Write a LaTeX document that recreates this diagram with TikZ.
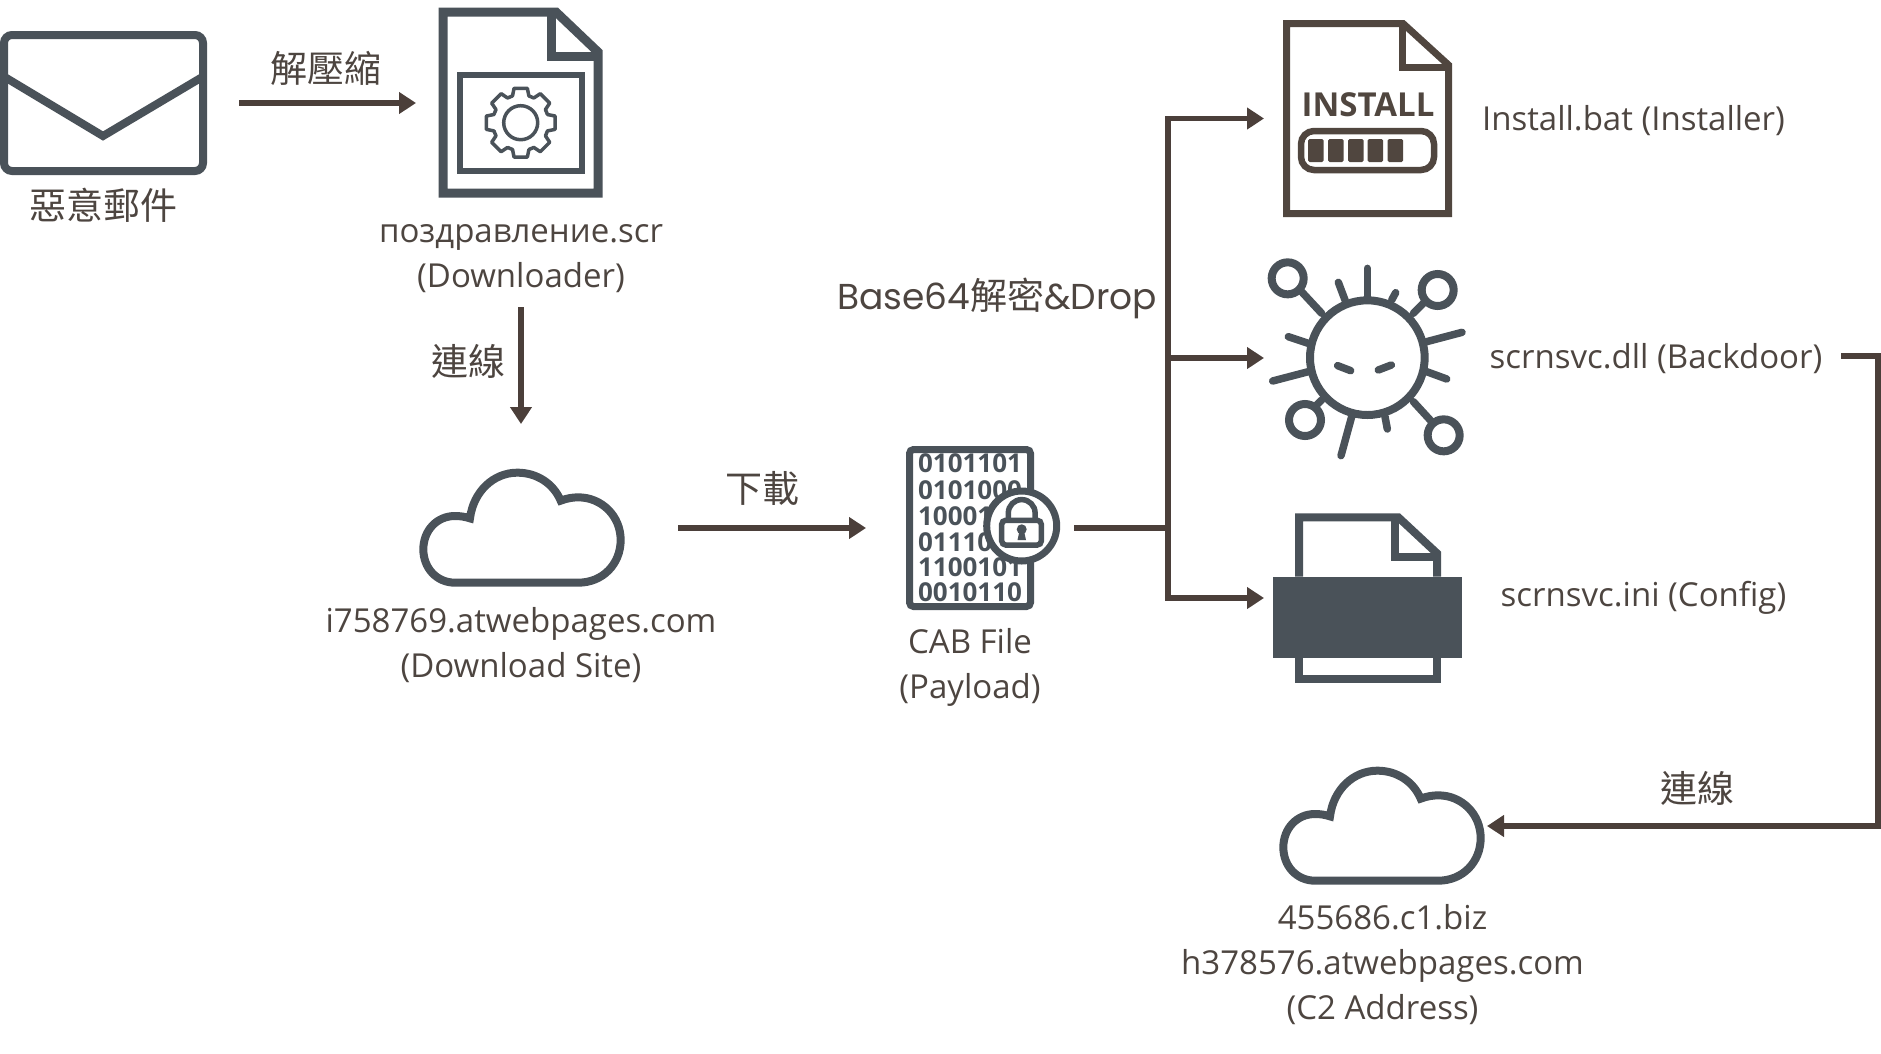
\documentclass[tikz,border=0pt]{standalone}
\usepackage{fontspec}
\setmainfont{Open Sans}
\newfontfamily\cjk{Noto Sans CJK TC}
\newfontfamily\pop{Poppins}
\usetikzlibrary{arrows.meta}
\definecolor{iconc}{HTML}{4A5259}
\definecolor{txtc}{HTML}{4D4540}
\definecolor{arrc}{HTML}{4B3F3A}
\definecolor{instc}{HTML}{50463F}
\tikzset{
  hold/.style={inner sep=0pt,outer sep=0pt,text=txtc,align=center,font=\fontsize{33}{45}\selectfont},
  arr/.style={draw=arrc,line width=5.5pt,-{Triangle[length=17pt,width=21pt]}},
  icon/.style={draw=iconc,line width=8pt,miter limit=10},
  capt/.style={inner sep=0pt,text=txtc,font=\cjk\fontsize{37}{40}\selectfont},
  cloudicon/.style={draw=iconc,line width=8pt,fill=white}
}
\newcommand{\placebox}[6]{\node[hold,minimum width={(#4-#2)*1pt},minimum height={(#5-#3)*1pt}] (#1) at ({(#2+#4)/2},{(#3+#5)/2}) {#6};}
\newcommand{\cloudshape}{%
  (135,368) -- (505,368) .. controls (578,368) and (632,312) .. (632,240) .. controls (632,168) and (575,112) .. (505,112) .. controls (488,112) and (470,115) .. (452,122) .. controls (430,70) and (380,38) .. (322,38) .. controls (250,38) and (190,95) .. (180,175) .. controls (165,170) and (150,168) .. (135,168) .. controls (80,168) and (40,212) .. (40,268) .. controls (40,324) and (80,368) .. (135,368) -- cycle}
\begin{document}
\begin{tikzpicture}[x=1pt,y=-1pt]
\useasboundingbox (0,0) rectangle (1881,1053);
% placement boxes (invisible)
\placebox{mail}{0}{32}{239}{174}{}
\placebox{doc}{416}{8}{603}{198}{}
\placebox{dl}{380}{211}{662}{307}{поздравление.scr\\(Downloader)}
\placebox{cloudA}{364}{424}{678}{632}{}
\placebox{dlsite}{300}{598}{742}{693}{i758769.atwebpages.com\\(Download Site)}
\placebox{cab}{866}{446}{1074}{610}{}
\placebox{cablbl}{870}{621}{1070}{713}{CAB File\\(Payload)}
\coordinate (trunk) at (1168,528);
\placebox{inst}{1264}{20}{1452}{217}{}
\placebox{virus}{1264}{250}{1470}{466}{}
\placebox{printer}{1264}{513}{1470}{683}{}
\placebox{instl}{1480}{97}{1787}{144}{Install.bat (Installer)}
\placebox{dll}{1490}{332}{1841}{380}{\hspace*{-19pt}\raisebox{-2.5pt}[\height][\depth]{scrnsvc.dll (Backdoor)}}
\placebox{ini}{1500}{574}{1787}{621}{scrnsvc.ini (Config)}
\placebox{cloudB}{1280}{767}{1487}{885}{}
\placebox{c2}{1160}{896}{1605}{1033}{455686.c1.biz\\h378576.atwebpages.com\\(C2 Address)}
\coordinate (c2top) at (1878,356);
\coordinate (c2bot) at (1878,826);
% captions
\node[capt] (mailcap) at (103,205) {惡意郵件};
\node[capt] (unz) at (326,68) {解壓縮};
\node[capt] (conA) at (468,361) {連線};
\node[capt] (down) at (762,488) {下載};
\node[capt] (conB) at (1697,788) {連線};
\node[inner sep=0pt,text=txtc,font=\pop\fontsize{36}{40}\selectfont] (b64) at (997,298) {Base64{\cjk\fontsize{37}{40}\selectfont 解密}\&Drop};
% envelope
\draw[icon,rounded corners=8pt] (4,35) rectangle (203,171);
\draw[icon] (3,76) -- (103,136) -- (204,76);
% downloader document
\draw[icon,line width=9pt,line join=miter] (443,12) -- (556,12) -- (598,52) -- (598,193) -- (443,193) -- cycle;
\draw[icon,line width=9pt] (551,12) -- (551,56) -- (598,56);
\draw[icon,line width=6pt] (460,75) rectangle (582,171);
\begin{scope}[shift={(520.7,122.7)}]
\foreach \a in {0,45,...,315}{
  \draw[draw=iconc,line width=3.5pt,line cap=round,line join=round] (\a-17:28) -- (\a-11:35) -- (\a+11:35) -- (\a+17:28) -- (\a+28:28);
}
\draw[draw=iconc,line width=3.5pt] (0,0) circle (17);
\end{scope}
% clouds
\begin{scope}[shift={(410,460)},scale=1/3]
\draw[cloudicon] \cloudshape;
\end{scope}
\begin{scope}[shift={(1270,758)},scale=1/3]
\draw[cloudicon] \cloudshape;
\end{scope}
% CAB file
\draw[icon,line width=7pt,rounded corners=4pt] (909.5,449.5) rectangle (1030.5,606.5);
\foreach \t/\y in {0101101/463,0101000/490,1000101/516,0111010/542,1100101/567,0010110/592}{
  \node[inner sep=0pt,text=iconc,font=\bfseries\fontsize{26}{26}\selectfont] at (970,\y) {\t};
}
\fill[white] (1021.7,526) circle (36);
\draw[icon,line width=7pt] (1021.7,526) circle (35);
\draw[icon,line width=5.5pt] (1008.3,521) -- (1008.3,513) arc[start angle=180,end angle=360,radius=13.4] -- (1035,521);
\draw[icon,line width=5.5pt,rounded corners=4pt] (1001.7,520.3) rectangle (1041.3,545);
\fill[iconc] (1021.7,529.3) circle (5);
\fill[iconc] (1019.5,531) -- (1024,531) -- (1026,540) -- (1017.5,540) -- cycle;
% install document
\draw[line width=7pt,draw=instc,line join=miter,miter limit=10] (1286.5,23.5) -- (1403,23.5) -- (1448.5,65) -- (1448.5,213.5) -- (1286.5,213.5) -- cycle;
\draw[line width=7pt,draw=instc] (1402,23.5) -- (1402,67) -- (1448.5,67);
\draw[line width=6.5pt,draw=instc,rounded corners=13pt] (1301,131) rectangle (1434,170);
\node[inner sep=0pt,text=instc,font=\bfseries\fontsize{33}{33}\selectfont] at (1368,105) {INSTALL};
\foreach \x in {1308,1328,1348,1367.5,1387.5}{
  \fill[instc,rounded corners=1.5pt] (\x,139) rectangle (\x+15.5,162);
}
% virus
\begin{scope}[shift={(1250,240)},scale=1/3,line cap=round]
\draw[draw=iconc,line width=8pt] (352,353) circle (172);
\foreach \cx/\cy in {113/115,563/150,165/540,581/586}{\draw[draw=iconc,line width=8pt] (\cx,\cy) circle (48);}
\foreach \ax/\ay/\bx/\by in {215/220/150/150,490/220/525/185,215/480/200/495,490/485/545/545,285/180/265/127,352/170/352/85,425/180/437/158,530/305/636/277,530/395/590/417,405/530/412/567,305/530/273/647,175/310/115/290,175/395/68/423,263/377/302/392,385/390/424/375}{
  \draw[draw=iconc,line width=7.5pt] (\ax,\ay) -- (\bx,\by);
}
\end{scope}
% printer
\begin{scope}[shift={(1250,490)},scale=1/3]
\draw[icon] (147,260) -- (147,82) -- (445,82) -- (561,190) -- (561,260);
\draw[icon] (434,85) -- (434,200) -- (561,200);
\draw[icon] (147,505) -- (147,567) -- (561,567) -- (561,505);
\fill[iconc] (70,260) rectangle (637,505);
\end{scope}
% connectors
\draw[arr] (mail.east) -- (doc.west);
\draw[arr] (dl.south) -- (cloudA.north);
\draw[arr] (cloudA.east) -- (cab.west);
\draw[arr] (cab.east) -- (trunk) |- (inst.west);
\draw[arr] (trunk) |- (virus.west);
\draw[arr] (trunk) |- (printer.west);
\draw[arr] (dll.east) -- (c2top) -- (c2bot) -- (cloudB.east);
\end{tikzpicture}
\end{document}
